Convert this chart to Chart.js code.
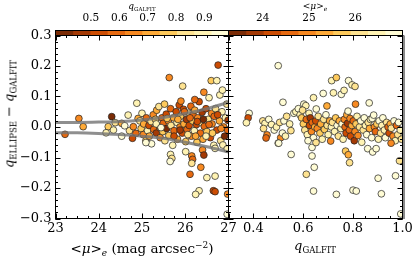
<!DOCTYPE html>
<html>
<head>
<meta charset="utf-8">
<script src="https://cdn.jsdelivr.net/npm/chart.js@4.4.1/dist/chart.umd.min.js"></script>
<style>
body { margin: 0; background: #fff; }
#wrap { position: relative; width: 415px; height: 260px; overflow: hidden; font-family: 'DejaVu Serif', serif; color: #000; }
#wrap canvas { position: absolute; left: 0; top: 0; }
.lbl { position: absolute; white-space: nowrap; transform: translate(-50%, -50%); line-height: 1; }
.sc { font-size: 8.5px; position: relative; top: 3px; font-style: normal; }
.sub { font-size: 9px; position: relative; top: 3px; }
.sup { font-size: 9px; position: relative; top: -5px; }
</style>
</head>
<body>
<div id="wrap">
  <canvas id="cbL" width="415" height="260"></canvas>
  <canvas id="cbR" width="415" height="260"></canvas>
  <canvas id="right" width="415" height="260"></canvas>
  <canvas id="left" width="415" height="260"></canvas>
  <div class="lbl" style="left:9px;top:114px;font-size:13px;transform:translate(-50%,-50%) rotate(-90deg)"><i>q</i><span class="sc">ELLIPSE</span> − <i>q</i><span class="sc">GALFIT</span></div>
  <div class="lbl" style="left:142px;top:249px;font-size:13.5px">&lt;<i>μ</i>&gt;<i class="sub">e</i> (mag arcsec<span class="sup">−2</span>)</div>
  <div class="lbl" style="left:315px;top:245px;font-size:13px"><i>q</i><span class="sc">GALFIT</span></div>
  <div class="lbl" style="left:142px;top:6px;font-size:9px"><i>q</i><span class="sc" style="font-size:5.5px;top:2px">GALFIT</span></div>
  <div class="lbl" style="left:315px;top:6px;font-size:9px">&lt;<i>μ</i>&gt;<i class="sub" style="font-size:6px;top:2px">e</i></div>
</div>
<script>
// left panel: x = <mu>_e, y = q_ELLIPSE - q_GALFIT, colour = q_GALFIT
var muL = [23.22,23.54,23.64,24.30,24.22,24.17,24.38,24.34,24.53,24.53,
  24.68,24.71,24.80,24.86,24.78,24.88,24.91,24.60,24.95,24.98,
  25.00,25.03,25.04,25.09,25.10,25.13,25.16,25.17,25.21,25.22,
  25.26,25.27,25.31,25.33,25.34,25.39,25.41,25.42,25.46,25.48,
  25.49,25.53,25.56,25.57,25.61,25.62,25.66,25.67,25.71,25.63,
  25.73,25.74,25.79,25.81,25.82,25.86,25.88,25.89,25.93,25.94,
  25.96,25.97,26.01,26.03,26.04,26.08,26.09,26.13,26.14,26.17,
  26.18,26.21,26.22,26.26,26.27,26.29,26.32,26.35,26.36,26.39,
  26.41,26.43,26.44,26.48,26.50,26.53,26.55,26.58,26.60,26.61,
  26.62,26.66,26.67,26.70,26.73,26.73,26.76,26.79,26.80,26.82,
  26.85,26.86,26.89,26.91,26.93,26.96,26.98,26.99,25.09,25.66,
  25.69,25.65,26.01,26.15,26.17,26.15,26.36,26.11,26.50,26.69,
  26.32,26.24,26.65,26.69,26.97,26.40,26.69,26.87,26.97,26.43,
  26.98,25.33,25.44,25.58,25.74,25.83,25.88,25.98,26.06,26.11,
  26.24,26.28,26.42,26.48,26.55,26.63,26.75,26.83,25.90,26.22,
  25.52];
var dqL = [-0.024,0.028,0.001,0.034,0.001,-0.019,0.014,-0.010,0.012,-0.030,
  0.039,-0.012,0.001,-0.021,-0.037,0.078,0.028,0.004,0.020,-0.005,
  0.045,-0.025,0.010,-0.045,0.030,-0.012,0.005,-0.030,0.018,-0.055,
  0.040,-0.008,0.025,-0.020,0.055,0.067,0.002,-0.035,0.030,-0.015,
  0.012,-0.045,0.042,-0.005,0.020,-0.028,0.060,0.005,-0.060,0.162,
  0.030,-0.012,0.050,0.015,-0.040,0.072,0.000,0.035,-0.020,0.134,
  0.058,0.010,-0.048,0.025,-0.008,0.045,0.005,0.068,-0.030,0.020,
  0.040,-0.012,0.055,0.008,-0.050,0.030,0.083,-0.020,0.015,0.048,
  -0.040,0.114,0.002,0.060,-0.015,0.025,0.096,-0.035,0.152,0.045,
  0.010,-0.060,0.035,0.060,-0.010,0.152,0.203,0.020,0.105,-0.045,
  0.050,0.121,0.000,-0.030,0.030,0.075,-0.010,0.022,-0.051,-0.090,
  -0.103,-0.113,-0.081,-0.095,-0.106,-0.119,-0.132,-0.155,-0.166,-0.161,
  -0.209,-0.221,-0.209,-0.212,-0.286,-0.075,-0.070,-0.059,-0.072,-0.092,
  -0.220,0.010,-0.002,0.028,-0.030,0.025,-0.010,0.050,-0.025,0.030,
  -0.030,0.018,0.025,-0.030,0.008,-0.020,0.040,-0.005,0.085,0.090,
  0.075];
var qL = [0.59,0.65,0.71,0.41,0.77,0.89,0.83,0.89,0.71,0.95,
  0.89,0.83,0.65,0.59,0.53,0.89,0.71,0.95,0.83,0.77,
  0.89,0.65,0.71,0.77,0.59,0.89,0.53,0.71,0.83,0.95,
  0.65,0.59,0.77,0.47,0.71,0.83,0.53,0.65,0.59,0.77,
  0.59,0.83,0.53,0.41,0.65,0.77,0.59,0.83,0.89,0.65,
  0.71,0.59,0.53,0.89,0.71,0.53,0.65,0.77,0.53,0.83,
  0.53,0.71,0.77,0.47,0.59,0.83,0.53,0.59,0.65,0.77,
  0.59,0.89,0.71,0.53,0.77,0.65,0.53,0.59,0.83,0.47,
  0.71,0.65,0.59,0.53,0.77,0.83,0.89,0.53,0.77,0.65,
  0.65,0.89,0.59,0.83,0.53,0.89,0.53,0.71,0.89,0.83,
  0.89,0.89,0.65,0.41,0.89,0.83,0.59,0.47,0.95,0.89,
  0.83,0.95,0.89,0.65,0.59,0.83,0.65,0.59,0.89,0.89,
  0.89,0.89,0.53,0.53,0.95,0.65,0.89,0.89,0.89,0.47,
  0.65,0.89,0.95,0.77,0.53,0.71,0.47,0.59,0.83,0.59,
  0.71,0.53,0.41,0.89,0.59,0.77,0.53,0.65,0.65,0.59,
  0.77];

// grey envelope curves on the left panel
var trendMu = [23, 23.5, 24, 24.5, 25, 25.5, 26, 26.5, 27];
var trendHi = [0.015, 0.015, 0.016, 0.018, 0.023, 0.031, 0.044, 0.060, 0.081];
var trendLo = [-0.019, -0.019, -0.021, -0.025, -0.030, -0.037, -0.050, -0.065, -0.082];

// right panel: x = q_GALFIT, y = q_ELLIPSE - q_GALFIT, colour = <mu>_e
var qR = [0.500,0.519,0.642,0.681,0.715,0.734,0.722,0.754,0.765,0.783,
  0.797,0.809,0.696,0.811,0.866,0.653,0.383,0.379,0.372,0.455,
  0.451,0.510,0.500,0.438,0.447,0.462,0.473,0.441,0.484,0.493,
  0.506,0.523,0.534,0.546,0.551,0.563,0.571,0.517,0.552,0.529,
  0.581,0.588,0.603,0.611,0.598,0.594,0.624,0.601,0.607,0.613,
  0.617,0.626,0.629,0.634,0.637,0.642,0.647,0.651,0.657,0.661,
  0.668,0.671,0.677,0.683,0.686,0.692,0.697,0.701,0.707,0.711,
  0.714,0.620,0.636,0.652,0.636,0.645,0.613,0.642,0.734,0.502,
  0.718,0.727,0.731,0.737,0.742,0.746,0.752,0.757,0.761,0.766,
  0.769,0.773,0.776,0.779,0.781,0.786,0.789,0.791,0.796,0.802,
  0.806,0.809,0.813,0.817,0.821,0.827,0.832,0.836,0.842,0.846,
  0.851,0.771,0.782,0.787,0.801,0.814,0.856,0.862,0.867,0.871,
  0.876,0.878,0.884,0.887,0.891,0.897,0.903,0.906,0.912,0.917,
  0.921,0.927,0.931,0.936,0.942,0.946,0.951,0.955,0.962,0.966,
  0.971,0.976,0.981,0.984,0.991,0.996,0.954,0.860,0.880,0.894,
  0.902,0.915,0.972,0.988,0.993];
var dqR = [0.201,0.081,0.096,0.110,0.152,0.162,0.112,0.107,0.120,0.152,
  0.138,0.133,0.069,0.075,0.079,0.059,0.045,0.030,0.014,-0.026,
  -0.036,-0.035,-0.053,0.020,0.012,0.025,0.008,-0.005,-0.010,0.000,
  0.015,0.020,0.035,0.010,-0.012,0.045,0.050,-0.020,-0.090,-0.030,
  0.060,0.040,0.075,0.070,0.055,0.030,0.045,0.010,-0.010,0.025,
  -0.025,0.005,0.030,-0.015,0.015,-0.035,0.000,0.020,-0.005,0.035,
  -0.020,0.010,-0.040,0.025,-0.008,0.040,0.005,-0.025,0.020,-0.046,
  0.000,-0.045,-0.067,-0.051,-0.095,-0.132,-0.155,-0.210,-0.221,-0.053,
  0.015,-0.015,0.030,0.005,-0.030,0.020,-0.005,0.010,-0.040,0.025,
  0.000,-0.020,0.040,0.012,0.052,-0.010,0.028,-0.030,0.005,0.020,
  -0.045,-0.015,0.010,0.035,-0.028,0.000,0.020,-0.050,-0.010,0.030,
  0.005,-0.079,-0.091,-0.117,-0.207,-0.210,-0.025,0.015,-0.005,0.025,
  -0.035,0.028,0.039,0.000,-0.015,0.010,-0.040,0.020,-0.020,0.005,
  0.030,-0.010,-0.035,0.015,0.000,-0.020,0.010,-0.004,-0.030,0.020,
  -0.045,0.005,-0.025,0.015,-0.010,-0.040,-0.053,-0.071,-0.082,-0.071,
  -0.168,-0.219,-0.160,-0.111,-0.285];
var muR = [26.8,26.8,26.5,26.8,26.5,25.7,26.5,26.8,26.5,26.8,
  26.5,26.1,25.33,24.95,26.8,26.8,26.8,24.2,26.5,24.95,
  24.58,24.95,26.5,26.1,26.5,26.8,26.5,26.1,26.8,26.5,
  26.1,26.8,26.1,26.5,26.1,26.8,26.5,26.8,26.8,26.5,
  26.8,26.5,26.8,26.5,26.1,25.7,26.5,25.7,26.1,24.58,
  26.5,24.2,23.82,24.95,24.58,26.8,25.33,24.2,24.95,26.1,
  25.7,25.33,26.5,26.1,25.7,26.8,26.1,26.5,25.33,24.95,
  26.5,26.8,26.8,26.1,26.8,26.8,26.1,26.8,26.8,26.8,
  26.1,26.5,25.7,26.8,26.1,25.33,26.5,26.8,26.5,24.95,
  24.58,24.2,25.33,23.82,26.8,24.58,24.95,24.2,25.33,24.58,
  23.82,24.95,25.7,26.5,24.95,26.1,26.8,26.5,26.1,26.8,
  26.5,25.7,25.33,26.1,26.8,26.8,26.8,26.1,25.33,26.5,
  26.8,26.8,26.8,24.95,24.58,25.7,26.5,26.8,26.1,26.5,
  26.8,26.5,26.8,26.1,24.58,24.2,25.33,26.1,24.95,26.8,
  26.5,24.58,26.1,26.8,26.5,26.1,24.95,26.8,26.8,26.8,
  26.8,26.8,26.8,26.1,26.8];

// colour bars
var cmap = ['#7a2b05','#a33904','#cc4c02','#e66910','#f78921','#feaa38','#feca5c','#fee391','#fff3b3','#fffcd5'];
var qRange = [0.375, 0.985];
var muRange = [23.26, 27.02];

// tick labels
var muTicks = [23, 24, 25, 26, 27];
var qTicks = [0.4, 0.6, 0.8, 1.0];
var dqTicks = [-0.3, -0.2, -0.1, 0.0, 0.1, 0.2, 0.3];
var cbQTicks = [0.5, 0.6, 0.7, 0.8, 0.9];
var cbMuTicks = [24, 25, 26];

var serif = 'DejaVu Serif';

function colourFor(v, range) {
	var i = Math.floor((v - range[0]) / (range[1] - range[0]) * cmap.length);
	return cmap[Math.max(0, Math.min(cmap.length - 1, i))];
}

function steps(a, b, s) {
	var out = [];
	for (var v = a; v <= b + 1e-9; v += s) out.push(v);
	return out;
}

function fixTicks(vals) {
	return function (scale) {
		scale.ticks = vals.map(function (v) { return { value: v }; });
	};
}

function fmt1(v) {
	return (v < -1e-9 ? '\u2212' : '') + Math.abs(v).toFixed(1);
}

// box + inward tick marks on all four sides, drawn over the points
var frame = {
	id: 'frame',
	afterDatasetsDraw: function (chart, args, o) {
		var ctx = chart.ctx, a = chart.chartArea;
		ctx.save();
		ctx.strokeStyle = '#000';
		ctx.lineWidth = 1;
		function marks(axis, vals, len) {
			if (!vals) return;
			var s = chart.scales[axis];
			vals.forEach(function (v) {
				var p = Math.round(s.getPixelForValue(v)) + 0.5;
				ctx.beginPath();
				if (axis === 'x') {
					ctx.moveTo(p, a.bottom); ctx.lineTo(p, a.bottom - len);
					ctx.moveTo(p, a.top); ctx.lineTo(p, a.top + len);
				} else {
					ctx.moveTo(a.left, p); ctx.lineTo(a.left + len, p);
					ctx.moveTo(a.right, p); ctx.lineTo(a.right - len, p);
				}
				ctx.stroke();
			});
		}
		marks('x', o.x, 5);
		marks('x', o.xMinor, 2.5);
		marks('y', o.y, 5);
		marks('y', o.yMinor, 2.5);
		ctx.strokeRect(a.left, a.top, a.right - a.left, a.bottom - a.top);
		if (o.edge) {
			ctx.strokeStyle = '#8a8a8a';
			ctx.lineWidth = 2;
			ctx.beginPath();
			ctx.moveTo(a.right + 1.5, a.top);
			ctx.lineTo(a.right + 1.5, a.bottom + 0.5);
			ctx.stroke();
		}
		ctx.restore();
	}
};

function points(xs, ys, cs, range) {
	return {
		data: xs.map(function (x, i) { return { x: x, y: ys[i] }; }),
		pointBackgroundColor: cs.map(function (c) { return colourFor(c, range); }),
		pointBorderColor: 'rgba(35,35,35,0.9)',
		pointBorderWidth: 0.8,
		pointRadius: 3.4,
		clip: 0,
		order: 2
	};
}

function curve(ys) {
	return {
		data: trendMu.map(function (m, i) { return { x: m, y: ys[i] }; }),
		showLine: true,
		borderColor: 'rgba(115,115,115,0.8)',
		borderWidth: 3,
		pointRadius: 0,
		cubicInterpolationMode: 'monotone',
		fill: false,
		clip: 0,
		order: 1
	};
}

var tickFont = { family: serif, size: 13 };

function yScale(show) {
	return {
		min: -0.3, max: 0.3,
		display: show,
		afterBuildTicks: fixTicks(dqTicks),
		afterFit: function (s) { s.width = show ? 55.5 : 0; },
		grid: { display: false, drawTicks: false },
		border: { display: false },
		ticks: { font: tickFont, color: '#000', padding: 4, callback: fmt1 }
	};
}

function xScale(min, max, vals, cb) {
	return {
		type: 'linear', min: min, max: max,
		afterBuildTicks: fixTicks(vals),
		afterFit: function (s) { s.height = 41.5; },
		grid: { display: false, drawTicks: false },
		border: { display: false },
		ticks: { font: tickFont, color: '#000', padding: 2, maxRotation: 0, callback: cb }
	};
}

var base = {
	responsive: false,
	animation: false,
	devicePixelRatio: 1,
	events: []
};

new Chart(document.getElementById('left'), {
	type: 'scatter',
	data: { datasets: [points(muL, dqL, qL, qRange), curve(trendHi), curve(trendLo)] },
	options: Object.assign({}, base, {
		layout: { autoPadding: false, padding: { left: 0, right: 186.5, top: 35.5, bottom: 0 } },
		scales: {
			x: xScale(23, 27, muTicks, function (v) { return String(v); }),
			y: yScale(true)
		},
		plugins: {
			legend: { display: false }, tooltip: { enabled: false },
			frame: { x: muTicks, xMinor: steps(23, 27, 0.25), y: dqTicks, yMinor: steps(-0.3, 0.3, 0.02) }
		}
	}),
	plugins: [frame]
});

new Chart(document.getElementById('right'), {
	type: 'scatter',
	data: { datasets: [points(qR, dqR, muR, muRange)] },
	options: Object.assign({}, base, {
		layout: { autoPadding: false, padding: { left: 228.5, right: 12.5, top: 35.5, bottom: 0 } },
		scales: {
			x: xScale(0.3, 1.0, qTicks, fmt1),
			y: yScale(false)
		},
		plugins: {
			legend: { display: false }, tooltip: { enabled: false },
			frame: { x: qTicks, xMinor: steps(0.3, 1.0, 0.05), y: dqTicks, yMinor: steps(-0.3, 0.3, 0.02), edge: true }
		}
	}),
	plugins: [frame]
});

function colourBar(id, range, vals, padL, padR, cb) {
	var w = (range[1] - range[0]) / cmap.length;
	new Chart(document.getElementById(id), {
		type: 'bar',
		data: {
			labels: [''],
			datasets: cmap.map(function (c, i) {
				return {
					data: [[range[0] + i * w, range[0] + (i + 1) * w]],
					backgroundColor: c,
					borderWidth: 0,
					grouped: false,
					barPercentage: 1,
					categoryPercentage: 1
				};
			})
		},
		options: Object.assign({}, base, {
			indexAxis: 'y',
			layout: { autoPadding: false, padding: { left: padL, right: padR, top: 0, bottom: 224.5 } },
			scales: {
				x: {
					type: 'linear', position: 'top', min: range[0], max: range[1],
					afterBuildTicks: fixTicks(vals),
					afterFit: function (s) { s.height = 30.5; },
					grid: { display: false, drawTicks: false },
					border: { display: false },
					ticks: { font: { family: serif, size: 10.5 }, color: '#000', padding: 6, maxRotation: 0, callback: cb }
				},
				y: { display: false }
			},
			plugins: { legend: { display: false }, tooltip: { enabled: false }, frame: {} }
		}),
		plugins: [frame]
	});
}

colourBar('cbL', qRange, cbQTicks, 55.5, 186.5, fmt1);
colourBar('cbR', muRange, cbMuTicks, 228.5, 12.5, function (v) { return String(v); });
</script>
</body>
</html>
